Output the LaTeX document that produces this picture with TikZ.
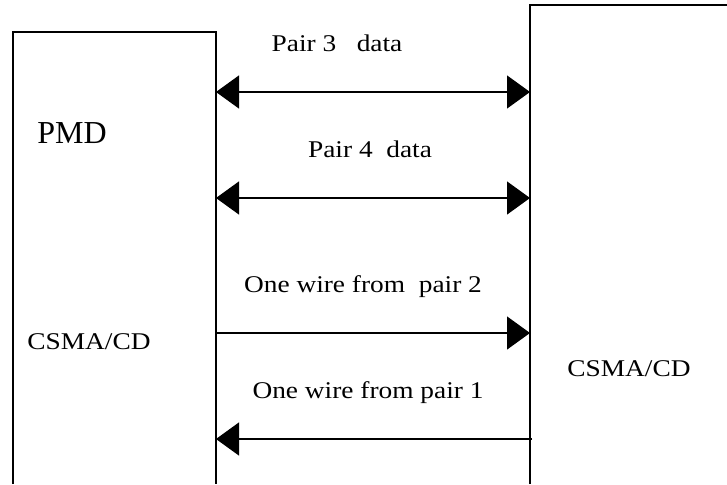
\documentclass[tikz,border=0pt]{standalone}
\usepackage{fontspec}
\setmainfont{Liberation Serif}
\usetikzlibrary{arrows.meta}

\begin{document}
\begin{tikzpicture}[x=1pt, y=-1pt,
		tip/.style={-{Triangle[length=23pt, width=33pt]}},
		tips/.style={{Triangle[length=23pt, width=33pt]}-{Triangle[length=23pt, width=33pt]}},
		lbl/.style={anchor=base, inner sep=0pt, xscale=1.14, font=\fontsize{24}{28}\selectfont}]
		\def\pmdL{13};
		\def\pmdR{216};
		\def\pmdT{32};
		\def\macL{530};
		\def\macT{5};
		\def\bottom{484};
		
		\useasboundingbox (0,0) rectangle (727,\bottom);
		
		\begin{scope}[line width=1.5pt]
			\draw (\pmdL,\bottom) -- (\pmdL,\pmdT) -- (\pmdR,\pmdT) -- (\pmdR,\bottom);
			\draw (\macL,\bottom) -- (\macL,\macT) -- (727,\macT);
		\end{scope}
		
		\node [lbl, xscale=1/1.14, font=\fontsize{32}{36}\selectfont] (pmd) at (72,143) {PMD};
		\node [lbl] (csmaL) at (89,349) {CSMA/CD};
		\node [lbl] (csmaR) at (629,376) {CSMA/CD};
		
		\coordinate (pmd3) at (\pmdR,92);
		\coordinate (mac3) at (\macL,92);
		\coordinate (pmd4) at (\pmdR,198);
		\coordinate (mac4) at (\macL,198);
		\coordinate (pmd2) at (\pmdR,333);
		\coordinate (mac2) at (\macL,333);
		\coordinate (pmd1) at (\pmdR,439);
		\coordinate (mac1) at (\macL+2,439);
		
		\begin{scope}[line width=1.3pt]
			\draw [tips] (pmd3) -- (mac3);
			\draw [tips] (pmd4) -- (mac4);
			\draw [tip] (pmd2) -- (mac2);
			\draw [tip] (mac1) -- (pmd1);
		\end{scope}
		
		\node [lbl] (pair3) at (337,52) {Pair 3 \ \ data};
		\node [lbl] (pair4) at (370,157) {Pair 4 \ data};
		\node [lbl] (wire2) at (363,292) {One wire from \ pair 2};
		\node [lbl] (wire1) at (368,398) {One wire from pair 1};
	\end{tikzpicture}
\end{document}
